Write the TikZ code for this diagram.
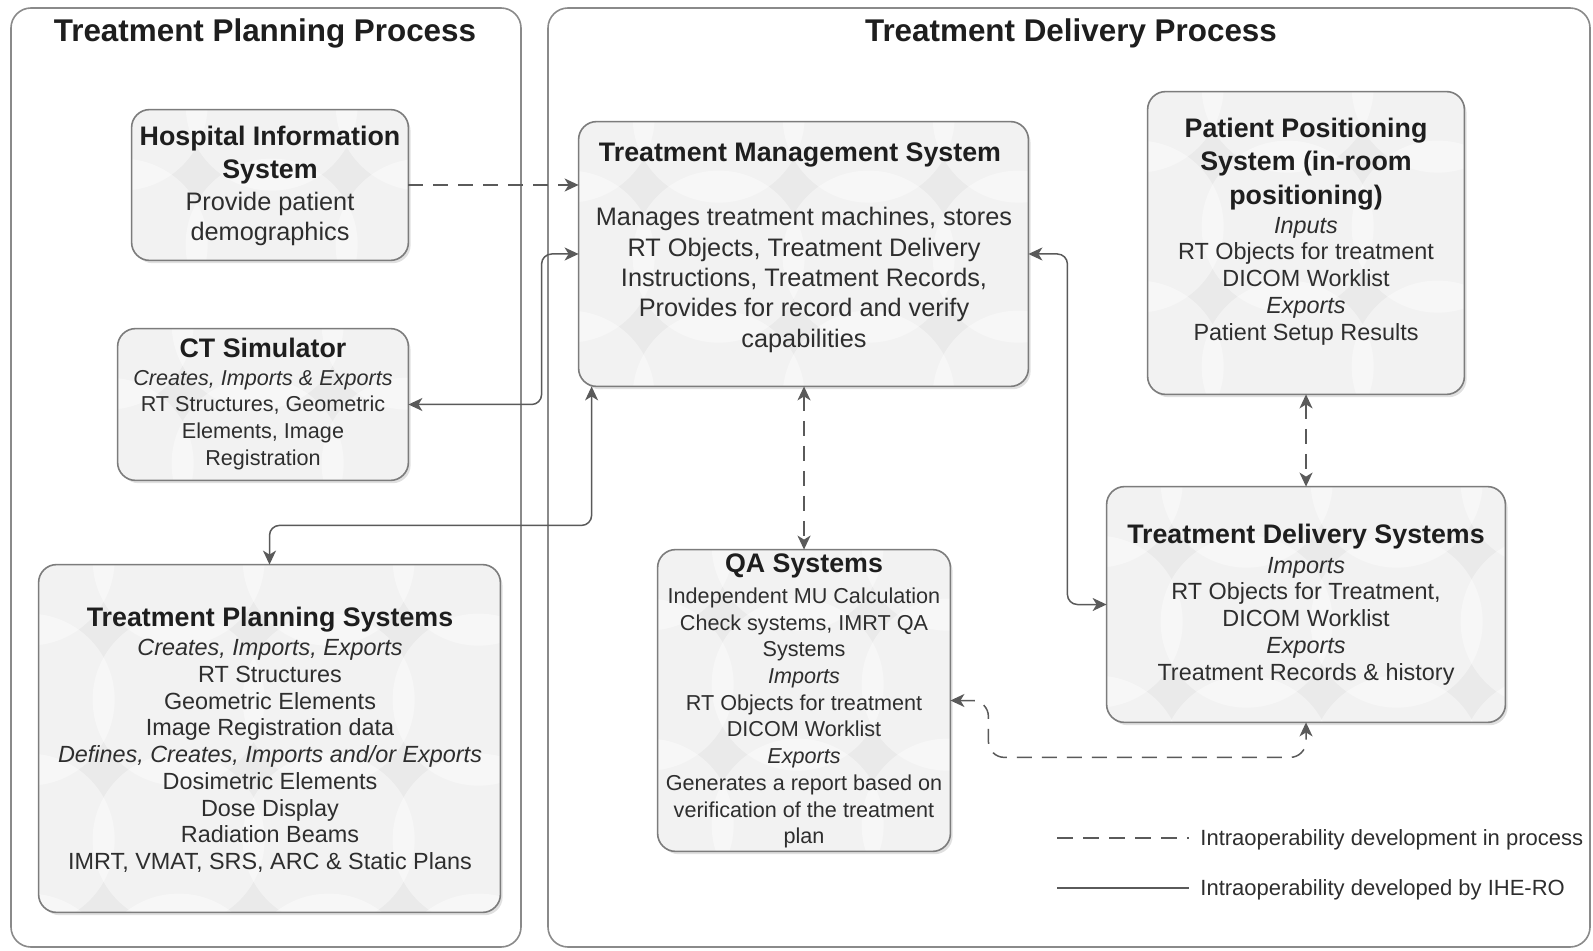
\documentclass[tikz,border=0pt]{standalone}
\usepackage{fontspec}
\setmainfont{Liberation Sans}
\usetikzlibrary{arrows.meta,calc,fit,shadows}

\definecolor{inkdark}{HTML}{1E1E1E}
\definecolor{inkbody}{HTML}{2E2E2E}
\definecolor{framegray}{HTML}{8A8A8A}
\definecolor{boxedge}{HTML}{7C7C7C}
\definecolor{boxfill}{HTML}{EAEAEA}
\definecolor{wire}{HTML}{5A5A5A}

\tikzset{
  panel/.style={draw=framegray, line width=0.8pt, rounded corners=10pt},
  panelhead/.style={font=\fontsize{15.7}{19}\selectfont\bfseries, text=inkdark, inner sep=0pt},
  sysbox/.style={fill=boxfill, inner sep=0pt, rounded corners=9pt,
    drop shadow={shadow xshift=1.3pt, shadow yshift=-1.6pt, opacity=0.12, fill=black}},
  boxline/.style={draw=boxedge, line width=0.8pt, rounded corners=9pt},
  systitle/.style={font=\fontsize{13.4}{16.8}\selectfont\bfseries, text=inkdark, align=center, inner sep=0pt},
  bodyL/.style={font=\fontsize{12.65}{15.2}\selectfont, text=inkbody, align=center, inner sep=0pt},
  bodyM/.style={font=\fontsize{11.7}{13.35}\selectfont, text=inkbody, align=center, inner sep=0pt},
  bodyS/.style={font=\fontsize{10.8}{13.35}\selectfont, text=inkbody, align=center, inner sep=0pt},
  legendtext/.style={font=\fontsize{11}{13}\selectfont, text=inkbody, inner sep=0pt, anchor=west},
  tip/.tip={Stealth[length=7pt,width=6.5pt,inset=2pt]},
  link/.style={draw=wire, line width=0.75pt},
  solidlink/.style={link, tip-tip},
  dashlink/.style={link, dash pattern=on 7.5pt off 5pt, tip-tip},
}

% light bubble texture inside a system box, then its outline
\newcommand\bubbles[1]{%
  \begin{scope}
    \clip[rounded corners=9pt] (#1.south west) rectangle (#1.north east);
    \foreach \i in {0,...,4}{\foreach \j in {0,...,3}{
      \fill[white, opacity=0.42] ($(#1.north west)+(\i*150-10,\j*140-5)$) circle[radius=43pt];
    }}
  \end{scope}
  \draw[boxline] (#1.south west) rectangle (#1.north east);
}

\begin{document}
\begin{tikzpicture}[x=0.5pt, y=-0.5pt]
\useasboundingbox (0,0) rectangle (1593,951);
\fill[white] (0,0) rectangle (1593,951);

% the two process panels
\draw[panel] (11,8) rectangle (521,947);
\draw[panel] (548,8) rectangle (1590,947);
\node[panelhead] (lefthead) at (265,33) {Treatment Planning Process};
\node[panelhead] (righthead) at (1071,33) {Treatment Delivery Process};

% system boxes
\node[sysbox, fit={(132,110) (408,260)}] (his) {};
\node[sysbox, fit={(118,329) (408,480)}] (ct) {};
\node[sysbox, fit={(39,565) (500,912)}] (tps) {};
\node[sysbox, fit={(579,122) (1028,386)}] (tms) {};
\node[sysbox, fit={(1148,92) (1464,394)}] (pps) {};
\node[sysbox, fit={(658,550) (950,851)}] (qa) {};
\node[sysbox, fit={(1107,487) (1505,722)}] (tds) {};
\bubbles{his}
\bubbles{ct}
\bubbles{tps}
\bubbles{tms}
\bubbles{pps}
\bubbles{qa}
\bubbles{tds}

% box contents
\node[systitle] (his-title) at (270,155) {Hospital Information\\System};
\node[bodyL] (his-body) at (270,219) {Provide patient\\demographics};

\node[systitle] (ct-title) at (263,348) {CT Simulator};
\node[bodyS] (ct-body) at (263,420) {\textit{Creates, Imports \& Exports}\\RT Structures, Geometric\\Elements, Image\\Registration};

\node[systitle] (tps-title) at (270,620) {Treatment Planning Systems};
\node[bodyM] (tps-body) at (270,756) {\textit{Creates, Imports, Exports}\\RT Structures\\Geometric Elements\\Image Registration data\\\textit{Defines, Creates, Imports and/or Exports}\\Dosimetric Elements\\Dose Display\\Radiation Beams\\IMRT, VMAT, SRS, ARC \& Static Plans};

\node[systitle] (tms-title) at (800,155) {Treatment Management System};
\node[bodyL] (tms-body) at (804,280) {Manages treatment machines, stores\\RT Objects, Treatment Delivery\\Instructions, Treatment Records,\\Provides for record and verify\\capabilities};

\node[systitle] (pps-title) at (1306,164) {Patient Positioning\\System (in-room\\positioning)};
\node[bodyM] (pps-body) at (1306,281) {\textit{Inputs}\\RT Objects for treatment\\DICOM Worklist\\\textit{Exports}\\Patient Setup Results};

\node[systitle] (qa-title) at (804,566) {QA Systems};
\node[bodyS] (qa-body) at (804,718) {Independent MU Calculation\\Check systems, IMRT QA\\Systems\\\textit{Imports}\\RT Objects for treatment\\DICOM Worklist\\\textit{Exports}\\Generates a report based on\\verification of the treatment\\plan};

\node[systitle] (tds-title) at (1306,537) {Treatment Delivery Systems};
\node[bodyM] (tds-body) at (1306,621) {\textit{Imports}\\RT Objects for Treatment,\\DICOM Worklist\\\textit{Exports}\\Treatment Records \& history};

% connectors
\draw[link, dash pattern=on 7.5pt off 5pt, -tip] (his.east) -- (his.east -| tms.west);
\draw[solidlink, rounded corners=5pt] (tms.west) -- ++(-37,0) |- (ct.east);
\draw[solidlink, rounded corners=5pt] ($(tms.south west)+(13,0)$) -- ++(0,139) -| (tps.north);
\draw[dashlink] (tms.south -| qa.north) -- (qa.north);
\draw[solidlink, rounded corners=5pt] (tms.east) -- ++(39,0) |- (tds.west);
\draw[dashlink] (pps.south) -- (pps.south |- tds.north);
\draw[dashlink, rounded corners=8pt] (qa.east) -- ++(38,0) |- ($(tds.south)+(0,35)$) -- (tds.south);

% legend
\coordinate (dashA) at (1057,838);
\coordinate (dashB) at (1189,838);
\coordinate (lineA) at (1057,888);
\coordinate (lineB) at (1189,888);
\draw[link, dash pattern=on 8pt off 5pt] (dashA) -- (dashB);
\draw[link] (lineA) -- (lineB);
\node[legendtext] (leg-dash) at (1200,840) {Intraoperability development in process};
\node[legendtext] (leg-line) at (1200,890) {Intraoperability developed by IHE-RO};
\end{tikzpicture}
\end{document}
